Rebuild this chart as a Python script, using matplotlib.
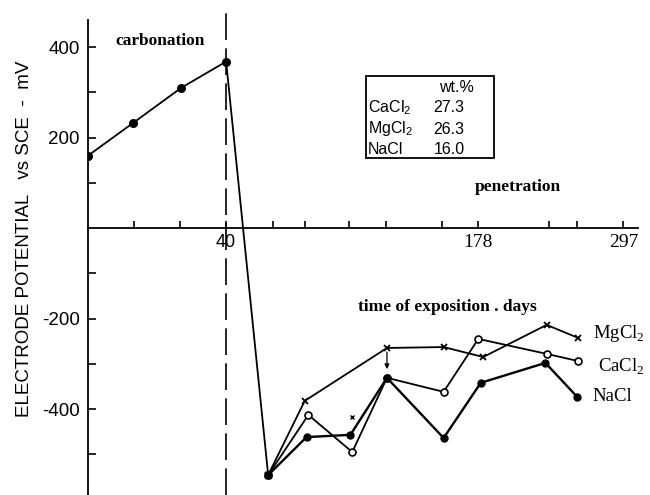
import numpy as np
import matplotlib
matplotlib.use("Agg")
import matplotlib.pyplot as plt
from matplotlib.patches import Rectangle

plt.rcParams['font.family'] = ['Liberation Sans', 'DejaVu Sans']
plt.rcParams['mathtext.fontset'] = 'custom'

# carbonation stage (days, mV)
carb_days = [0, 13, 27, 40]
carb_mv = [160, 232, 310, 368]

# chloride penetration stage
mg_days = [63, 83, 128, 159, 182, 234, 260]
mg_mv = [-546, -382, -265, -263, -285, -214, -243]
ca_days = [63, 85, 109, 128, 159, 178, 234, 260]
ca_mv = [-546, -413, -495, -331, -362, -245, -278, -294]
na_days = [63, 84, 108, 128, 159, 180, 233, 259]
na_mv = [-546, -462, -457, -331, -464, -342, -298, -373]

# x axis is stretched differently in each part of the test
anchor_days = [0, 40, 178, 297, 340]
anchor_pos = [0, 138, 390, 535, 587]
x_ticks = [13.3, 26.7, 40, 65.7, 83.3, 107.4, 127.6, 158.3, 178, 236, 259, 297]
x_labels = {40: '40', 178: '178', 297: '297'}
y_ticks = [-500, -400, -300, -200, -100, 100, 200, 300, 400]
y_labels = {-400: '-400', -200: '-200', 200: '200', 400: '400'}

salts = ['CaCl$_\\mathregular{2}$', 'MgCl$_\\mathregular{2}$', 'NaCl']
wt = ['27.3', '26.3', '16.0']


def fwd(d):
    return np.interp(d, anchor_days, anchor_pos)


def inv(p):
    return np.interp(p, anchor_pos, anchor_days)


W, H = 650, 495
fig = plt.figure(figsize=(6.5, 4.95), dpi=100)
ax = fig.add_axes([88 / W, 0, 550 / W, 485 / H])
ax.set_xscale('function', functions=(fwd, inv))
ax.set_xlim(0, 309)
ax.set_ylim(-590, 482)

for s in ['top', 'right']:
    ax.spines[s].set_visible(False)
ax.spines['bottom'].set_position(('data', 0))
ax.spines['left'].set_bounds(-590, 460)
ax.spines['left'].set_linewidth(1.3)
ax.spines['bottom'].set_linewidth(1.3)

ax.set_xticks(x_ticks)
ax.set_xticklabels([x_labels.get(round(t), '') for t in x_ticks])
ax.set_yticks(y_ticks)
ax.set_yticklabels([y_labels.get(t, '') for t in y_ticks])
ax.tick_params(axis='x', direction='in', length=5, width=1.2, pad=4, labelsize=13)
ax.tick_params(axis='y', direction='in', length=6, width=1.2, pad=6, labelsize=13.5)
for lab in ax.get_xticklabels():
    if lab.get_text() in ('178', '297'):
        lab.set_family('Liberation Serif')
        lab.set_fontsize(14)

lw = 1.3
# carbonation line and drop
ax.plot(carb_days, carb_mv, color='black', lw=lw, marker='o', ms=5.5)
ax.plot([carb_days[-1], mg_days[0]], [carb_mv[-1], mg_mv[0]], color='black', lw=lw)
ax.plot(mg_days[:1], mg_mv[:1], 's', color='black', ms=5)

ax.plot(mg_days, mg_mv, color='black', lw=lw, marker='x', ms=4.5, mew=1.3)
ax.plot(ca_days, ca_mv, color='black', lw=lw, marker='o', ms=5, mfc='white', mew=1.2)
ax.plot(na_days, na_mv, color='black', lw=lw + 0.4, marker='o', ms=5)

ax.axvline(40, ymin=0, ymax=0.994, color='black', lw=1.2, ls=(0, (16, 5)))

# small arrows
ax.annotate('', xy=(128, -318), xytext=(128, -268),
            arrowprops=dict(arrowstyle='-|>', color='black', lw=0.9, mutation_scale=7))
ax.plot([109], [-418], marker='x', color='black', ms=3.5, mew=1)

serif = ['Liberation Serif', 'DejaVu Serif']
ax.text(21, 414, 'carbonation', family=serif, weight='bold', fontsize=12.5,
        ha='center', va='center')
ax.text(210, 90, 'penetration', family=serif, weight='bold', fontsize=12.5,
        ha='center', va='center')
ax.text(161, -175, 'time of exposition . days', family=serif, weight='bold',
        fontsize=12.5, ha='center', va='center')
ax.text(272, -232, 'MgCl$_\\mathregular{2}$', family=serif, fontsize=13.5, va='center')
ax.text(276.5, -307, 'CaCl$_\\mathregular{2}$', family=serif, fontsize=13.5, va='center')
ax.text(271.5, -373, 'NaCl', family=serif, fontsize=13.5, va='center')

fig.text(25 / W, 1 - 239 / H, 'ELECTRODE POTENTIAL   vs SCE  -  mV', rotation=90,
         fontsize=13.5, ha='center', va='center')

# composition box
fig.patches.append(Rectangle((366 / W, 1 - 158 / H), 128 / W, 82 / H,
                             transform=fig.transFigure, fill=False,
                             edgecolor='black', lw=1.3))
fig.text(456 / W, 1 - 87 / H, 'wt.%', fontsize=11.5, ha='center', va='center')
for i, (s, v) in enumerate(zip(salts, wt)):
    y = 1 - (108 + 21 * i) / H
    fig.text(368 / W, y, s, fontsize=11.5, ha='left', va='center')
    fig.text(449 / W, y, v, fontsize=11.5, ha='center', va='center')

fig.savefig('out.png', dpi=100)
